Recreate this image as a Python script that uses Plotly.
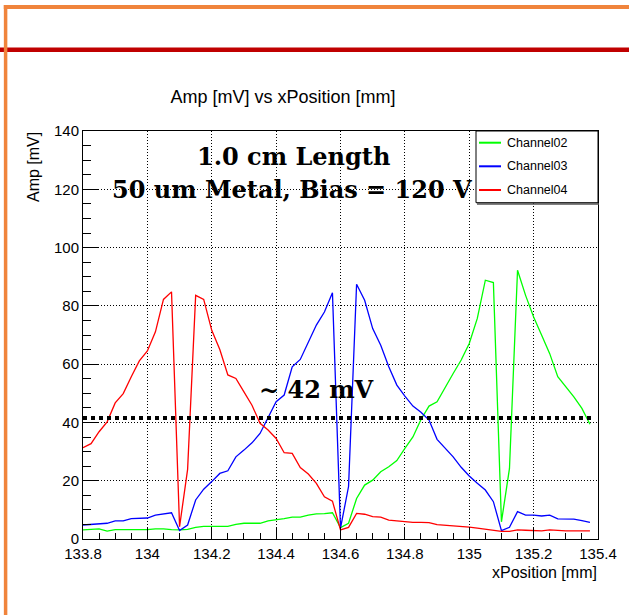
import plotly.graph_objects as go

# ---------------- data ----------------
x_pos = [133.800, 133.825, 133.850, 133.875, 133.900, 133.925, 133.950, 133.975,
         134.000, 134.025, 134.050, 134.075, 134.100, 134.125, 134.150, 134.175,
         134.200, 134.225, 134.250, 134.275, 134.300, 134.325, 134.350, 134.375,
         134.400, 134.425, 134.450, 134.475, 134.500, 134.525, 134.550, 134.575,
         134.600, 134.625, 134.650, 134.675, 134.700, 134.725, 134.750, 134.775,
         134.800, 134.825, 134.850, 134.875, 134.900, 134.925, 134.950, 134.975,
         135.000, 135.025, 135.050, 135.075, 135.100, 135.125, 135.150, 135.175,
         135.200, 135.225, 135.250, 135.275, 135.300, 135.325, 135.350, 135.375]

channel02 = [3.1, 3.3, 3.5, 2.7, 3.2, 3.2, 3.2, 3.2, 3.2, 3.5, 3.5, 3.2, 3.1, 3.3, 4.0, 4.3,
             4.3, 4.3, 4.3, 5.0, 5.4, 5.4, 5.4, 6.2, 6.5, 7.0, 7.5, 7.5, 8.2, 8.6, 8.7, 9.0,
             3.9, 5.4, 13.9, 18.5, 20.2, 23.1, 24.8, 26.9, 31.1, 35.0, 41.0, 45.6, 47.1, 52.2, 56.8, 61.4,
             67.1, 75.7, 88.8, 88.0, 5.9, 24.2, 92.2, 83.6, 76.2, 69.9, 63.6, 55.7, 52.2, 48.8, 44.8, 39.4]

channel03 = [4.8, 5.0, 5.1, 5.4, 6.2, 6.2, 7.0, 7.0, 7.2, 8.2, 8.7, 9.0, 2.9, 4.8, 13.4, 17.1,
             19.7, 22.5, 23.4, 28.2, 30.5, 33.0, 36.2, 41.9, 47.1, 49.4, 59.1, 61.6, 67.7, 73.4, 77.9, 84.5,
             3.7, 18.0, 87.4, 81.9, 72.2, 66.5, 59.1, 52.8, 49.0, 45.6, 43.5, 40.8, 34.2, 31.1, 28.2, 24.6,
             21.6, 19.1, 16.8, 12.8, 2.9, 4.0, 9.4, 8.2, 8.2, 7.9, 8.2, 6.9, 6.9, 6.8, 6.3, 5.7]

channel04 = [31.3, 32.7, 36.8, 40.2, 46.7, 49.9, 55.7, 61.1, 64.5, 71.1, 82.2, 84.8, 4.2, 23.9, 83.6, 82.2,
             71.6, 65.0, 56.3, 55.1, 50.5, 45.9, 39.7, 37.4, 34.5, 29.6, 29.4, 24.5, 22.3, 19.1, 14.5, 13.0,
             3.1, 4.0, 8.8, 8.5, 7.7, 7.5, 6.5, 6.2, 6.1, 5.7, 5.7, 5.6, 4.9, 4.7, 4.6, 4.2,
             4.1, 3.7, 3.4, 3.1, 2.6, 2.6, 3.1, 3.0, 2.8, 2.8, 3.1, 2.9, 2.8, 2.8, 2.8, 2.8]

series_names = ["Channel02", "Channel03", "Channel04"]
series_colors = ["#00FF00", "#0000FF", "#FF0000"]

threshold_x = [133.8, 135.38]
threshold_y = [41.5, 41.5]

x_ticks = [133.8, 134.0, 134.2, 134.4, 134.6, 134.8, 135.0, 135.2, 135.4]
x_tick_labels = ["133.8", "134", "134.2", "134.4", "134.6", "134.8", "135", "135.2", "135.4"]
y_ticks = [0, 20, 40, 60, 80, 100, 120, 140]

# ---------------- geometry helpers (page pixels -> paper) ----------------
W, H = 629, 615
L, R, T, B = 83, 31, 131, 76
PW, PH = W - L - R, H - T - B


def px(p):
    return (p - L) / PW


def py(p):
    return (H - B - p) / PH


fig = go.Figure()
for name, col, ys in zip(series_names, series_colors, [channel02, channel03, channel04]):
    fig.add_trace(go.Scatter(x=x_pos, y=ys, mode="lines", name=name,
                             line=dict(color=col, width=1.3), showlegend=False))

fig.add_trace(go.Scatter(x=threshold_x, y=threshold_y, mode="lines",
                         line=dict(color="black", width=4, dash="4px,4px"),
                         showlegend=False, hoverinfo="skip"))

shapes = []
# slide decoration
shapes.append(dict(type="line", xref="paper", yref="paper", x0=px(-5), x1=px(640),
                   y0=py(49.7), y1=py(49.7), line=dict(color="#C00000", width=4.5)))
shapes.append(dict(type="line", xref="paper", yref="paper", x0=px(3.8), x1=px(640),
                   y0=py(7), y1=py(7), line=dict(color="#F0843C", width=4)))
shapes.append(dict(type="line", xref="paper", yref="paper", x0=px(5.6), x1=px(5.6),
                   y0=py(5), y1=py(640), line=dict(color="#F0843C", width=3.5)))

# legend box
shapes.append(dict(type="line", xref="paper", yref="paper", x0=px(477), x1=px(599),
                   y0=py(204), y1=py(204), line=dict(color="#555555", width=1.5)))
shapes.append(dict(type="rect", xref="paper", yref="paper", x0=px(476), x1=1.0,
                   y0=py(202.7), y1=1.0, line=dict(color="black", width=1),
                   fillcolor="white"))
legend_rows = [142.7, 166.3, 190.0]
for yy, col in zip(legend_rows, series_colors):
    shapes.append(dict(type="line", xref="paper", yref="paper", x0=px(479), x1=px(501),
                       y0=py(yy), y1=py(yy), line=dict(color=col, width=2)))

annotations = []
for yy, name in zip(legend_rows, series_names):
    annotations.append(dict(text=name, xref="paper", yref="paper", x=px(505), y=py(yy),
                            xanchor="left", yanchor="middle", showarrow=False,
                            font=dict(family="Liberation Sans", size=12.5, color="black")))

serif = dict(family="DejaVu Serif", size=24, color="black")
annotations.append(dict(text="<b>1.0 cm Length</b>", xref="paper", yref="paper",
                        x=px(293), y=py(156), xanchor="center", yanchor="middle",
                        showarrow=False, font=serif))
annotations.append(dict(text="<b>50 um Metal, Bias = 120 V</b>", xref="paper", yref="paper",
                        x=px(292), y=py(189), xanchor="center", yanchor="middle",
                        showarrow=False, font=serif))
annotations.append(dict(text="<b>~ 42 mV</b>", xref="paper", yref="paper",
                        x=px(316), y=py(389), xanchor="center", yanchor="middle",
                        showarrow=False, font=serif))

# axis titles
annotations.append(dict(text="xPosition [mm]", xref="paper", yref="paper",
                        x=px(598), y=py(572), xanchor="right", yanchor="middle",
                        showarrow=False, borderpad=0,
                        font=dict(family="Liberation Sans", size=16, color="black")))
annotations.append(dict(text="Amp [mV]", xref="paper", yref="paper",
                        x=px(33), y=py(130), xanchor="center", yanchor="top",
                        textangle=-90, showarrow=False,
                        font=dict(family="Liberation Sans", size=16, color="black")))

fig.update_layout(
    width=W, height=H,
    margin=dict(l=L, r=R, t=T, b=B, pad=0),
    paper_bgcolor="white", plot_bgcolor="white",
    title=dict(text="Amp [mV] vs xPosition [mm]", xref="paper", x=px(283), xanchor="center",
               yref="container", y=1 - 97 / H, yanchor="middle",
               font=dict(family="Liberation Sans", size=18, color="black")),
    shapes=shapes, annotations=annotations, showlegend=False,
)

fig.update_xaxes(range=[133.8, 135.4], tickvals=x_ticks, ticktext=x_tick_labels,
                 ticks="inside", ticklen=12, tickcolor="black", tickwidth=1,
                 ticklabelstandoff=1,
                 showline=True, linecolor="black", linewidth=1, mirror=True,
                 showgrid=True, gridcolor="black", gridwidth=1, griddash="1px,2px",
                 zeroline=False,
                 tickfont=dict(family="Liberation Sans", size=15, color="black"),
                 minor=dict(dtick=0.05, tick0=133.8, ticks="inside", ticklen=6,
                            tickcolor="black", showgrid=False))
fig.update_yaxes(range=[0, 140], tickvals=y_ticks,
                 ticks="inside", ticklen=15, tickcolor="black", tickwidth=1,
                 showline=True, linecolor="black", linewidth=1, mirror=True,
                 showgrid=True, gridcolor="black", gridwidth=1, griddash="1px,2px",
                 zeroline=False,
                 tickfont=dict(family="Liberation Sans", size=15, color="black"),
                 minor=dict(dtick=5, tick0=0, ticks="inside", ticklen=8,
                            tickcolor="black", showgrid=False))

fig.write_html("out.html", config={"displayModeBar": False},
               post_script="document.body.style.margin='0';document.body.style.overflow='hidden';")
